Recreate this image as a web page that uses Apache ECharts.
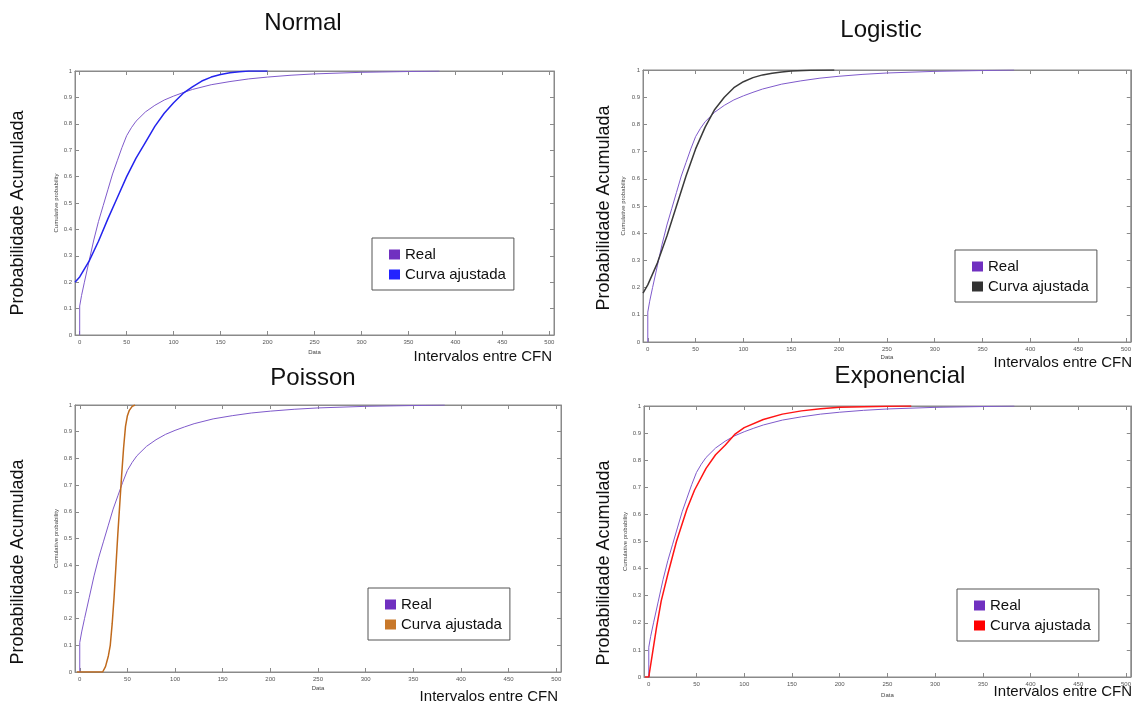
<!DOCTYPE html>
<html><head><meta charset="utf-8">
<script src="https://cdn.jsdelivr.net/npm/echarts@6/dist/echarts.min.js"></script>
<style>html,body{margin:0;padding:0;background:#fff}#c{width:1134px;height:706px}</style>
</head><body><div id="c"></div>
<script>
// ---- data ----
const xTicks = [0, 50, 100, 150, 200, 250, 300, 350, 400, 450, 500];
const yTicks = [0, 0.1, 0.2, 0.3, 0.4, 0.5, 0.6, 0.7, 0.8, 0.9, 1];

const realX = [0, 0, 2, 5, 10, 15, 20, 25, 30, 35, 40, 45, 50, 55, 60, 70, 80, 90, 100, 110, 120, 140, 160, 180, 200, 225, 250, 300, 350, 383];
const realY = [0, 0.11, 0.15, 0.2, 0.28, 0.36, 0.43, 0.49, 0.55, 0.61, 0.66, 0.71, 0.755, 0.785, 0.81, 0.845, 0.87, 0.89, 0.905, 0.918, 0.93, 0.948, 0.96, 0.97, 0.977, 0.984, 0.989, 0.995, 0.998, 1.0];

const normalX = [-5, 0, 10, 20, 30, 40, 50, 60, 70, 80, 90, 100, 110, 120, 130, 140, 150, 160, 170, 180, 200];
const normalY = [0.2, 0.22, 0.28, 0.355, 0.44, 0.52, 0.6, 0.67, 0.73, 0.79, 0.84, 0.88, 0.915, 0.94, 0.962, 0.977, 0.987, 0.993, 0.997, 1.0, 1.0];

const logisticX = [-5, 0, 10, 20, 30, 40, 50, 60, 70, 80, 90, 100, 110, 120, 130, 140, 150, 170, 195];
const logisticY = [0.18, 0.21, 0.29, 0.39, 0.5, 0.61, 0.71, 0.79, 0.855, 0.9, 0.935, 0.957, 0.972, 0.982, 0.988, 0.993, 0.996, 0.999, 1.0];

const poissonX = [-3, 24, 27, 30, 32, 34, 36, 38, 40, 42, 44, 46, 48, 50, 52, 55, 58];
const poissonY = [0, 0, 0.02, 0.06, 0.1, 0.18, 0.28, 0.4, 0.52, 0.63, 0.74, 0.84, 0.92, 0.96, 0.98, 0.995, 1.0];

const expX = [-4, 0, 4, 8, 13, 20, 29, 40, 48, 60, 70, 80, 90, 100, 120, 140, 160, 180, 200, 225, 250, 275];
const expY = [0, 0, 0.09, 0.18, 0.28, 0.38, 0.5, 0.62, 0.69, 0.77, 0.82, 0.855, 0.895, 0.92, 0.95, 0.97, 0.982, 0.99, 0.995, 0.997, 0.999, 1.0];

const titles = ['Normal', 'Logistic', 'Poisson', 'Exponencial'];
const legendNames = ['Real', 'Curva ajustada'];
const xName = 'Data';
const yName = 'Cumulative probability';
const bigXLabel = 'Intervalos entre CFN';
const bigYLabel = 'Probabilidade Acumulada';

// ---- layout / style ----
const FONT = '"Liberation Sans", Arial, sans-serif';
const AX = '#8a8a8a';
const realLine = '#7f5acb', realIcon = '#7030c0';
const panels = [
  { fx: normalX, fy: normalY, line: '#2424ee', icon: '#2222ff',
    grid: { left: 75, top: 71, width: 479, height: 264 }, xGap: 14, yGap: 16,
    title: [303, 23], bx: [552, 357], by: [18, 213], legend: [372, 238] },
  { fx: logisticX, fy: logisticY, line: '#3a3a3a', icon: '#333333',
    grid: { left: 643, top: 70, width: 493, height: 272 }, xGap: 12, yGap: 17,
    title: [881, 30], bx: [1132, 363], by: [604, 208], legend: [955, 250] },
  { fx: poissonX, fy: poissonY, line: '#c06a1c', icon: '#c8782a',
    grid: { left: 75, top: 405, width: 486, height: 267 }, xGap: 13, yGap: 16,
    title: [313, 378], bx: [558, 697], by: [18, 562], legend: [368, 588] },
  { fx: expX, fy: expY, line: '#ff1414', icon: '#ff0000',
    grid: { left: 644, top: 406, width: 493, height: 271 }, xGap: 15, yGap: 15,
    title: [900, 376], bx: [1132, 692], by: [604, 563], legend: [957, 589] }
];

const zip = (xs, ys) => xs.map((x, i) => [x, ys[i]]);

const grids = [], xAxes = [], yAxes = [], series = [], legends = [], graphics = [];
panels.forEach((p, i) => {
  grids.push(Object.assign({ show: true, borderColor: AX, borderWidth: 1, backgroundColor: '#fff' }, p.grid));
  const tick = { show: true, inside: true, length: 4, lineStyle: { color: AX } };
  const xBase = { gridIndex: i, type: 'value', min: -5, max: 505,
    axisLine: { show: true, onZero: false, lineStyle: { color: AX } }, splitLine: { show: false } };
  xAxes.push(Object.assign({}, xBase, { position: 'bottom', name: xName, nameLocation: 'middle', nameGap: p.xGap,
    nameTextStyle: { fontSize: 6, color: '#444', fontFamily: FONT },
    axisTick: Object.assign({ customValues: xTicks }, tick),
    axisLabel: { customValues: xTicks, fontSize: 6, color: '#555', margin: 4, fontFamily: FONT } }));
  const yBase = { gridIndex: i, type: 'value', min: 0, max: 1, interval: 0.1,
    axisLine: { show: true, onZero: false, lineStyle: { color: AX } }, splitLine: { show: false } };
  yAxes.push(Object.assign({}, yBase, { position: 'left', name: yName, nameLocation: 'middle', nameGap: p.yGap,
    nameTextStyle: { fontSize: 6, color: '#444', fontFamily: FONT },
    axisTick: tick,
    axisLabel: { fontSize: 6, color: '#555', margin: 3, fontFamily: FONT } }));
  graphics.push({ type: 'text', x: p.title[0], y: p.title[1], style: { text: titles[i], font: '24px ' + FONT, fill: '#111', textAlign: 'center', textVerticalAlign: 'middle' } });
  graphics.push({ type: 'text', x: p.bx[0], y: p.bx[1], style: { text: bigXLabel, font: '15px ' + FONT, fill: '#111', textAlign: 'right', textVerticalAlign: 'middle' } });
  graphics.push({ type: 'text', x: p.by[0], y: p.by[1], rotation: Math.PI / 2, style: { text: bigYLabel, font: '18px ' + FONT, fill: '#111', textAlign: 'center', textVerticalAlign: 'middle' } });

  const fitName = legendNames[1] + '|' + titles[i];
  series.push({ name: legendNames[0], type: 'line', xAxisIndex: i, yAxisIndex: i, data: zip(realX, realY),
    showSymbol: false, symbol: 'none', smooth: false, z: 2,
    lineStyle: { color: realLine, width: 1 }, itemStyle: { color: realIcon } });
  series.push({ name: fitName, type: 'line', xAxisIndex: i, yAxisIndex: i, data: zip(p.fx, p.fy),
    showSymbol: false, symbol: 'none', smooth: false, z: 3,
    lineStyle: { color: p.line, width: 1.5 }, itemStyle: { color: p.icon } });
  legends.push({ left: p.legend[0], top: p.legend[1], orient: 'vertical', icon: 'rect',
    itemWidth: 11, itemHeight: 10, itemGap: 5, padding: [9, 8, 8, 17],
    borderColor: '#555', borderWidth: 1, backgroundColor: '#fff', selectedMode: false,
    textStyle: { fontSize: 15, color: '#111', fontFamily: FONT, lineHeight: 15 },
    formatter: n => n.split('|')[0],
    data: [{ name: legendNames[0], itemStyle: { color: realIcon } }, { name: fitName, itemStyle: { color: p.icon } }] });
});
// top and right companion axes (inward ticks on all four sides)
panels.forEach((p, i) => {
  const tick = { show: true, inside: true, length: 4, lineStyle: { color: AX } };
  xAxes.push({ gridIndex: i, type: 'value', min: -5, max: 505, position: 'top',
    axisLine: { show: true, onZero: false, lineStyle: { color: AX } }, splitLine: { show: false },
    axisTick: Object.assign({ customValues: xTicks }, tick), axisLabel: { show: false } });
  yAxes.push({ gridIndex: i, type: 'value', min: 0, max: 1, interval: 0.1, position: 'right',
    axisLine: { show: true, onZero: false, lineStyle: { color: AX } }, splitLine: { show: false },
    axisTick: tick, axisLabel: { show: false } });
});

const chart = echarts.init(document.getElementById('c'), null, { renderer: 'canvas' });
chart.setOption({
  animation: false,
  backgroundColor: '#fff',
  grid: grids, xAxis: xAxes, yAxis: yAxes, series: series, legend: legends,
  graphic: graphics
});
</script></body></html>
